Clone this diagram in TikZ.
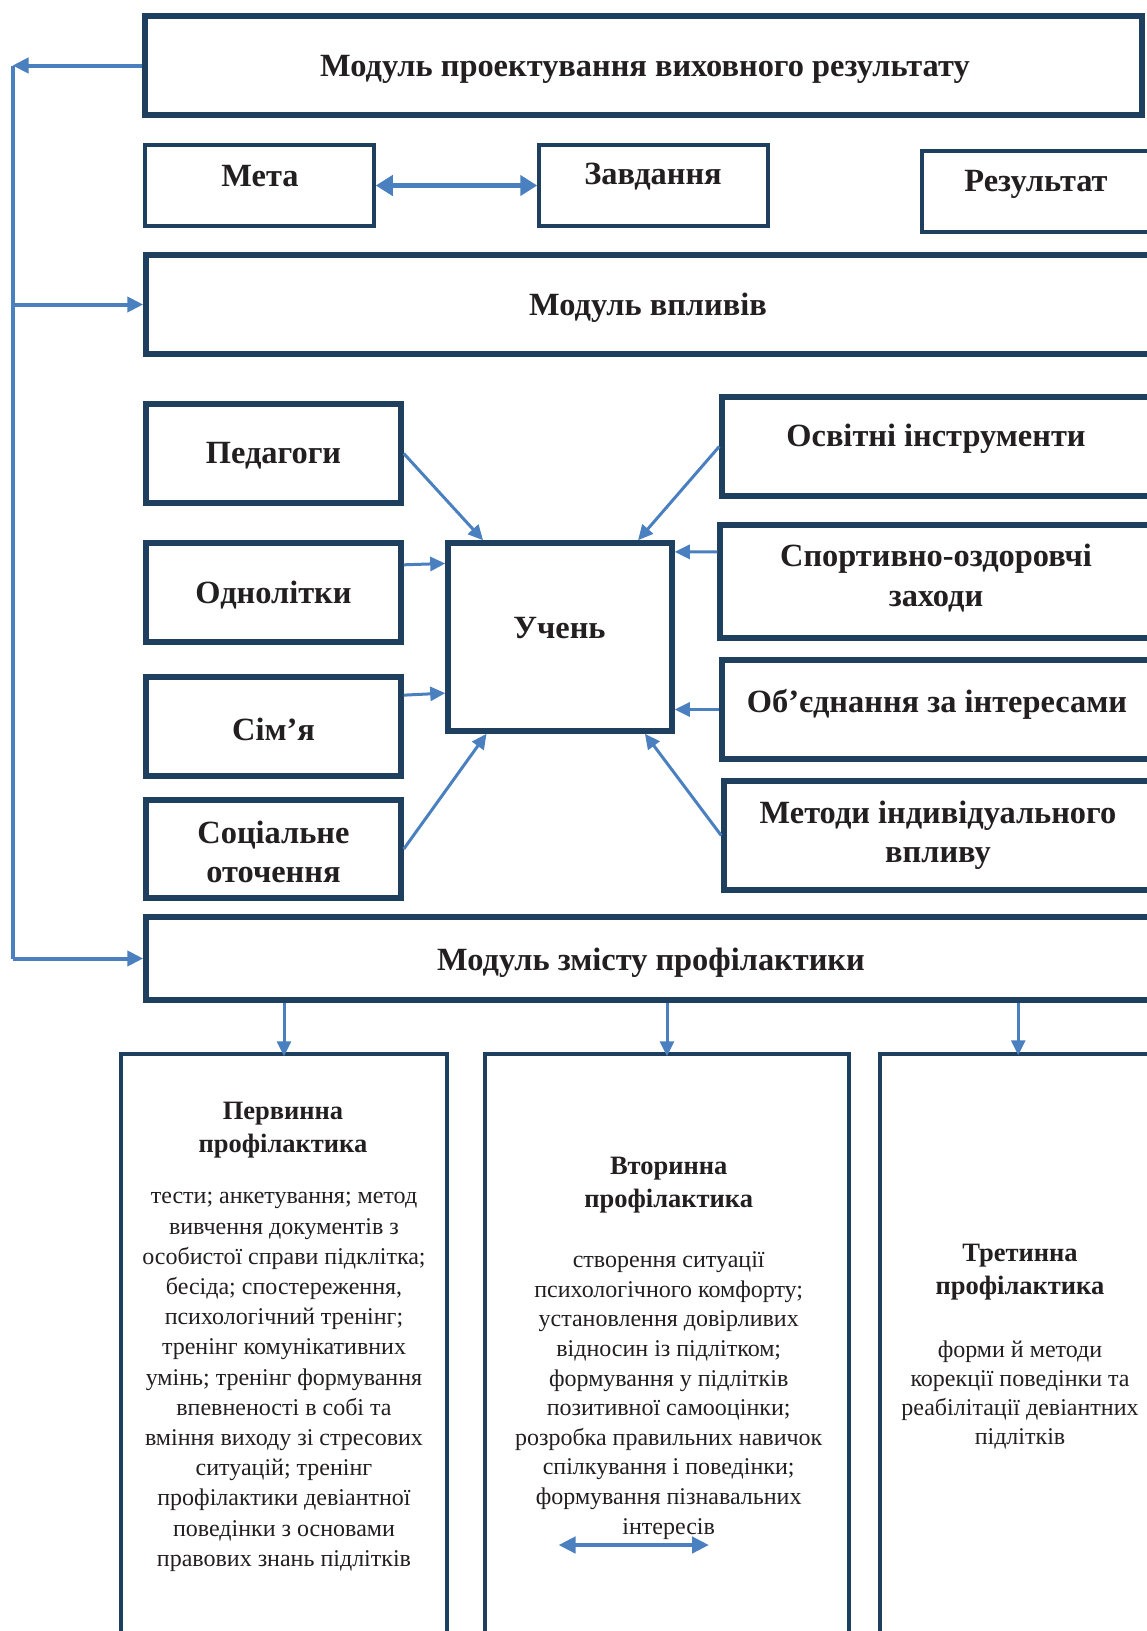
\documentclass[tikz,border=0pt]{standalone}
\usepackage{fontspec}
\setmainfont{Liberation Serif}
\usetikzlibrary{arrows.meta,calc,fit}
\definecolor{boxc}{HTML}{1F3F5F}
\definecolor{arrc}{HTML}{4A80BF}
\definecolor{txtc}{HTML}{231F20}
\begin{document}
\begin{tikzpicture}[x=1pt,y=-1pt,
  thickbox/.style={draw=boxc,line width=5.5pt,inner sep=0pt,rectangle},
  thinbox/.style={draw=boxc,line width=3.5pt,inner sep=0pt,rectangle},
  lbl/.style={text=txtc,font=\fontsize{32.4}{39.5}\selectfont\bfseries,align=center,inner sep=0pt},
  hd/.style={text=txtc,font=\fontsize{26.5}{33}\selectfont\bfseries,align=center,inner sep=0pt},
  bd/.style={text=txtc,font=\fontsize{24}{30.2}\selectfont,align=center,inner sep=0pt},
  conn/.style={draw=arrc,line width=3pt,-{Triangle[length=15pt,width=14pt]}},
  rail/.style={draw=arrc,line width=4pt},
  railarr/.style={draw=arrc,line width=4pt,-{Triangle[length=16pt,width=15pt]}},
  dbl/.style={draw=arrc,line width=5pt,{Triangle[length=17pt,width=20pt]}-{Triangle[length=17pt,width=20pt]}},
  dblsmall/.style={draw=arrc,line width=4.5pt,{Triangle[length=17pt,width=16pt]}-{Triangle[length=17pt,width=16pt]}}
]
\useasboundingbox (0,0) rectangle (1147,1631);
\fill[white] (0,0) rectangle (1147,1631);
\clip (0,0) rectangle (1147,1631);

% boxes
\node[thickbox,fit={(145,16) (1142,115)}] (top) {};
\node[thinbox,fit={(145,145) (374,226)}] (meta) {};
\node[thinbox,fit={(539,145) (768,226)}] (zavd) {};
\node[thinbox,fit={(922,151) (1200,232)}] (rez) {};
\node[thickbox,fit={(146,255) (1200,354)}] (vplyv) {};
\node[thickbox,fit={(146,404) (401,503)}] (ped) {};
\node[thickbox,fit={(146,543) (401,642)}] (odn) {};
\node[thickbox,fit={(146,677) (401,776)}] (sim) {};
\node[thickbox,fit={(146,800) (401,898)}] (soc) {};
\node[thickbox,fit={(448,543) (672,731)}] (uchen) {};
\node[thickbox,fit={(722,397) (1200,496)}] (osv) {};
\node[thickbox,fit={(720,525) (1200,638)}] (sport) {};
\node[thickbox,fit={(722,660) (1200,759)}] (obj) {};
\node[thickbox,fit={(724,781) (1200,890)}] (met) {};
\node[thickbox,fit={(146,917) (1200,1000)}] (zmist) {};
\node[thinbox,fit={(121,1054) (447,1700)}] (perv) {};
\node[thinbox,fit={(485,1054) (849,1700)}] (vtor) {};
\node[thinbox,fit={(880,1054) (1200,1700)}] (tret) {};

% labels
\node[lbl] (t-top) at (645,69) {Модуль проектування виховного результату};
\node[lbl] (t-meta) at (260,176) {Мета};
\node[lbl] (t-zavd) at (653,177) {Завдання};
\node[lbl] (t-rez) at (1036,184) {Результат};
\node[lbl] (t-vplyv) at (648,308) {Модуль впливів};
\node[lbl] (t-ped) at (273.5,456) {Педагоги};
\node[lbl] (t-odn) at (273.5,595) {Однолітки};
\node[lbl] (t-sim) at (273.5,729) {Сім’я};
\node[lbl] (t-soc) at (273.5,852) {Соціальне\\оточення};
\node[lbl] (t-uchen) at (559.5,628) {Учень};
\node[lbl] (t-osv) at (936,439) {Освітні інструменти};
\node[lbl] (t-sport) at (936,578) {Спортивно-оздоровчі\\заходи};
\node[lbl] (t-obj) at (937,704) {Об’єднання за інтересами};
\node[lbl] (t-met) at (938,835) {Методи індивідуального\\впливу};
\node[lbl] (t-zmist) at (651,963) {Модуль змісту профілактики};

\node[hd] (h-perv) at (283,1130) {Первинна\\профілактика};
\node[bd] (b-perv) at (284,1382) {тести; анкетування; метод\\вивчення документів з\\особистої справи підклітка;\\бесіда; спостереження,\\психологічний тренінг;\\тренінг комунікативних\\умінь; тренінг формування\\впевненості в собі та\\вміння виходу зі стресових\\ситуацій; тренінг\\профілактики девіантної\\поведінки з основами\\правових знань підлітків};
\node[hd] (h-vtor) at (668.7,1185) {Вторинна\\профілактика};
\node[bd,font=\fontsize{24}{29.6}\selectfont] (b-vtor) at (668.7,1395.5) {створення ситуації\\психологічного комфорту;\\установлення довірливих\\відносин із підлітком;\\формування у підлітків\\позитивної самооцінки;\\розробка правильних навичок\\спілкування і поведінки;\\формування пізнавальних\\інтересів};
\node[hd] (h-tret) at (1020,1272) {Третинна\\профілактика};
\node[bd,font=\fontsize{24}{29.2}\selectfont] (b-tret) at (1020,1395) {форми й методи\\корекції поведінки та\\реабілітації девіантних\\підлітків};

% left rail
\coordinate (railtop) at (12.5,65.5);
\coordinate (railbot) at (railtop |- zmist.west);
\coordinate (railmid) at (railtop |- vplyv.west);
\draw[rail] (railtop) -- (railbot);
\draw[railarr] (top.west) -- (railtop);
\draw[railarr] (railmid) -- (vplyv.west);
\draw[railarr] (railbot) -- (zmist.west);

% Мета <-> Завдання
\draw[dbl] (meta.east) -- (zavd.west);

% arrows into Учень
\draw[conn] (ped.east) -- ($(uchen.north west)!0.165!(uchen.north east)$);
\draw[conn] ($(odn.north east)!0.235!(odn.south east)$) -- ($(uchen.north west)!0.12!(uchen.south west)$);
\draw[conn] ($(sim.north east)!0.2!(sim.south east)$) -- ($(uchen.north west)!0.79!(uchen.south west)$);
\draw[conn] (soc.east) -- ($(uchen.south west)!0.18!(uchen.south east)$);
\draw[conn] (osv.west) -- ($(uchen.north west)!0.84!(uchen.north east)$);
\draw[conn] ($(sport.north west)!0.25!(sport.south west)$) -- ($(uchen.north east)!0.06!(uchen.south east)$);
\draw[conn] (obj.west) -- (obj.west -| uchen.east);
\draw[conn] (met.west) -- ($(uchen.south west)!0.87!(uchen.south east)$);

% arrows down
\draw[conn] (perv.north |- zmist.south) -- ([yshift=-4pt]perv.north);
\draw[conn] (vtor.north |- zmist.south) -- ([yshift=-4pt]vtor.north);
\coordinate (tretx) at ($(tret.north west)+(140,0)$);
\draw[conn] (tretx |- zmist.south) -- ([yshift=-3pt]tretx);

% inner double arrow
\coordinate (da1) at (558.5,1545);
\coordinate (da2) at (709,1545);
\draw[dblsmall] (da1) -- (da2);
\end{tikzpicture}
\end{document}
